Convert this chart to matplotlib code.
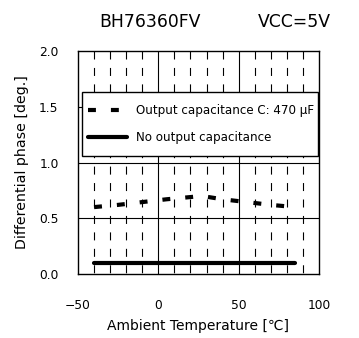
import matplotlib
matplotlib.use('Agg')
import matplotlib.pyplot as plt
from matplotlib.patches import Rectangle

plt.rcParams['font.family'] = ['DejaVu Sans']

# output capacitance 470 uF
temp_cap = [-40, -25, -10, 5, 20, 27, 40, 55, 70, 85]
phase_cap = [0.60, 0.62, 0.645, 0.67, 0.69, 0.70, 0.67, 0.645, 0.62, 0.60]
# no output capacitance
temp_nocap = [-40, 85]
phase_nocap = [0.1, 0.1]

x_ticks = [-50, 0, 50, 100]
y_ticks = [0.0, 0.5, 1.0, 1.5, 2.0]
minor_x = [-40, -30, -20, -10, 10, 20, 30, 40, 60, 70, 80, 90]

W, H = 359, 338
fig = plt.figure(figsize=(W / 100, H / 100), dpi=100)
ax = fig.add_axes([78 / W, 64 / H, 241 / W, 223 / H])

ax.set_xlim(-50, 100)
ax.set_ylim(0, 2.0)

# grid (dashed minor lines drawn top -> bottom so the pattern starts at the top)
for xv in minor_x:
    ax.plot([xv, xv], [2.0, 0.0], color='black', lw=0.8,
            linestyle=(0, (7.2, 7.6)), zorder=1)
for xv in [0, 50]:
    ax.axvline(xv, color='black', lw=0.8, zorder=1)
for yv in [0.5, 1.0, 1.5]:
    ax.axhline(yv, color='black', lw=0.8, zorder=1)

ax.plot(temp_cap, phase_cap, color='black', lw=3, dashes=(1.9, 3.6),
        dash_capstyle='butt', label='Output capacitance C: 470 µF', zorder=3)
ax.plot(temp_nocap, phase_nocap, color='black', lw=3, solid_capstyle='round',
        label='No output capacitance', zorder=3)

for s in ax.spines.values():
    s.set_linewidth(1.0)
    s.set_zorder(6)

ax.set_xticks(x_ticks)
ax.set_xticklabels(['\u221250', '0', '50', '100'])
ax.set_yticks(y_ticks)
ax.set_yticklabels(['%.1f' % v for v in y_ticks])
ax.tick_params(axis='x', length=0, pad=18, labelsize=8.8)
ax.tick_params(axis='y', length=0, pad=14, labelsize=8.8)

ax.set_xlabel('Ambient Temperature [\u2103]', fontsize=10, labelpad=5)
ax.set_ylabel('Differential phase [deg.]', fontsize=10.2, labelpad=7)

# legend box
box = Rectangle((4 / 241, 118 / 223), 236 / 241, 64 / 223, transform=ax.transAxes,
                facecolor='white', edgecolor='black', lw=1.0, zorder=4)
ax.add_patch(box)
leg = ax.legend(loc='center left', bbox_to_anchor=(10 / 241, 150 / 223),
                fontsize=8.6, handlelength=3.3, handletextpad=0.7,
                labelspacing=1.15, borderpad=0, borderaxespad=0, frameon=False)
leg.set_zorder(5)

fig.text(150 / W, 1 - 22 / H, 'BH76360FV', ha='center', va='center', fontsize=12.4)
fig.text(294 / W, 1 - 22 / H, 'VCC=5V', ha='center', va='center', fontsize=12.4)

plt.savefig('out.png', dpi=100)
